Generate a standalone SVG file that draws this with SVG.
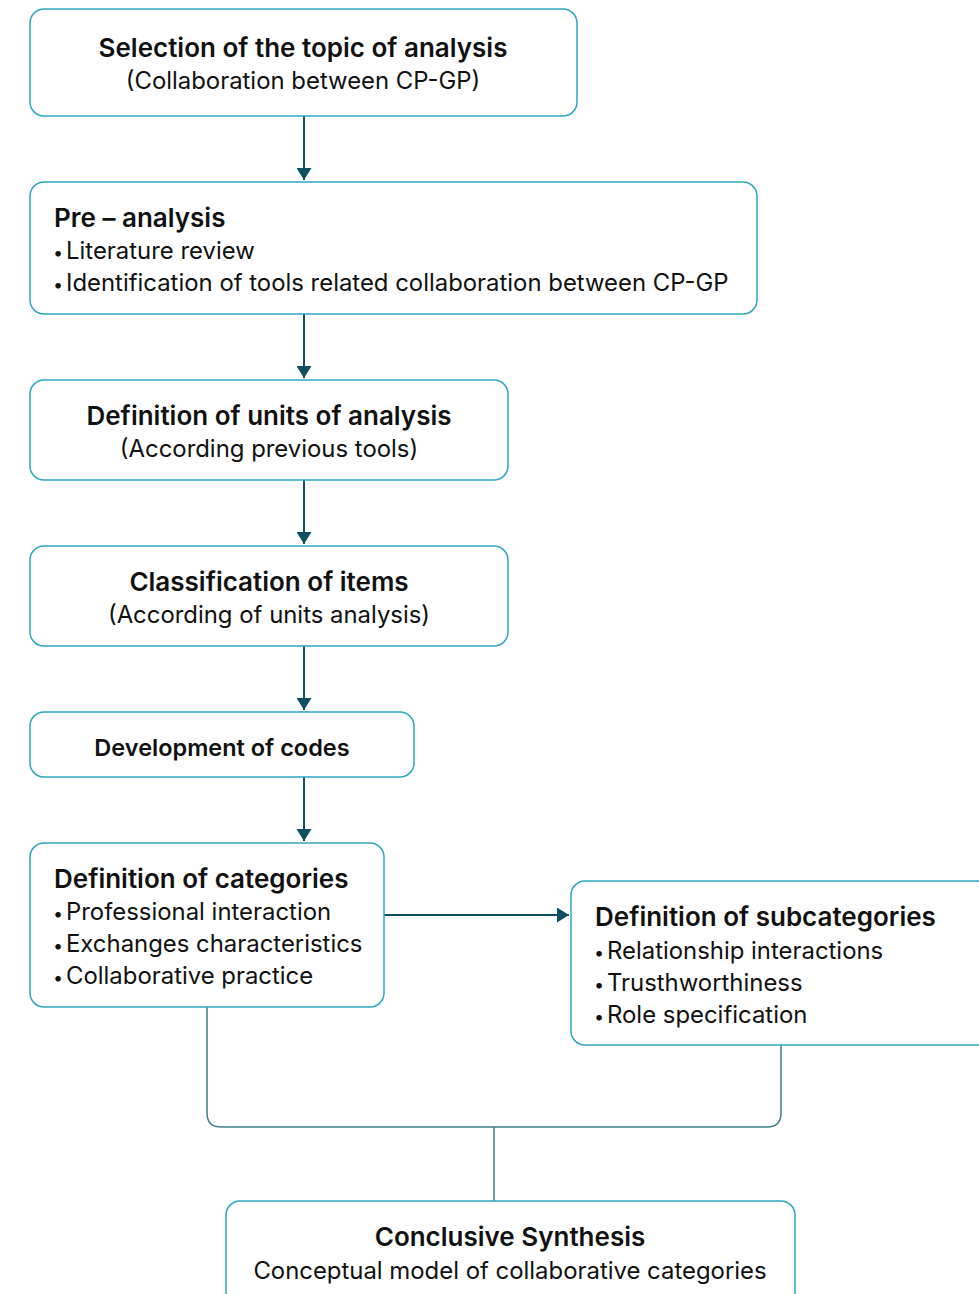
<svg xmlns="http://www.w3.org/2000/svg" width="979" height="1294" viewBox="0 0 979 1294">
<style>
.box{fill:#fff;stroke:#2fa7c0;stroke-width:1.5}
.t{font-family:Inter,"Noto Sans",sans-serif;fill:#111;font-size:23.9px}
.b{font-weight:600;font-size:26px}
.c{text-anchor:middle}
.bu{font-size:18px}
.con{fill:none;stroke:#0d5064;stroke-width:2}
.con2{fill:none;stroke:#3f7d8c;stroke-width:1.5}
</style>
<defs>
<marker id="arr" viewBox="0 0 12 15" refX="12" refY="7.5" markerWidth="12" markerHeight="15" orient="auto" markerUnits="userSpaceOnUse">
<path d="M0,0 L12,7.5 L0,15 z" fill="#0d5064"/>
</marker>
</defs>
<rect width="979" height="1294" fill="#fff"/>
<g id="connectors">
<line class="con" x1="304" y1="116" x2="304" y2="180" marker-end="url(#arr)"/>
<line class="con" x1="304" y1="314" x2="304" y2="378" marker-end="url(#arr)"/>
<line class="con" x1="304" y1="480" x2="304" y2="544" marker-end="url(#arr)"/>
<line class="con" x1="304" y1="646" x2="304" y2="710" marker-end="url(#arr)"/>
<line class="con" x1="304" y1="777" x2="304" y2="841" marker-end="url(#arr)"/>
<line class="con" x1="384" y1="915" x2="569" y2="915" marker-end="url(#arr)"/>
<path class="con2" d="M207,1007 V1113 Q207,1127 221,1127 H767 Q781,1127 781,1113 V1045"/>
<line class="con2" x1="494" y1="1127" x2="494" y2="1201"/>
</g>
<g id="n1">
<rect class="box" x="30" y="9" width="547" height="107" rx="14"/>
<text class="t b c" x="303" y="57">Selection of the topic of analysis</text>
<text class="t c" x="303" y="89">(Collaboration between CP-GP)</text>
</g>
<g id="n2">
<rect class="box" x="30" y="182" width="727" height="132" rx="14"/>
<text class="t b" x="54" y="227">Pre – analysis</text>
<text class="t" y="259"><tspan class="bu" x="53">•</tspan><tspan x="66">Literature review</tspan></text>
<text class="t" y="291"><tspan class="bu" x="53">•</tspan><tspan x="66">Identification of tools related collaboration between CP-GP</tspan></text>
</g>
<g id="n3">
<rect class="box" x="30" y="380" width="478" height="100" rx="14"/>
<text class="t b c" x="269" y="425">Definition of units of analysis</text>
<text class="t c" x="269" y="457">(According previous tools)</text>
</g>
<g id="n4">
<rect class="box" x="30" y="546" width="478" height="100" rx="14"/>
<text class="t b c" x="269" y="591">Classification of items</text>
<text class="t c" x="269" y="623">(According of units analysis)</text>
</g>
<g id="n5">
<rect class="box" x="30" y="712" width="384" height="65" rx="14"/>
<text class="t b c" x="222" y="756" style="font-size:23.5px">Development of codes</text>
</g>
<g id="n6">
<rect class="box" x="30" y="843" width="354" height="164" rx="14"/>
<text class="t b" x="54" y="888">Definition of categories</text>
<text class="t" y="920"><tspan class="bu" x="53">•</tspan><tspan x="66">Professional interaction</tspan></text>
<text class="t" y="952"><tspan class="bu" x="53">•</tspan><tspan x="66">Exchanges characteristics</tspan></text>
<text class="t" y="984"><tspan class="bu" x="53">•</tspan><tspan x="66">Collaborative practice</tspan></text>
</g>
<g id="n7">
<rect class="box" x="571" y="881" width="420" height="164" rx="14"/>
<text class="t b" x="595" y="926">Definition of subcategories</text>
<text class="t" y="959"><tspan class="bu" x="594">•</tspan><tspan x="607">Relationship interactions</tspan></text>
<text class="t" y="991"><tspan class="bu" x="594">•</tspan><tspan x="607">Trusthworthiness</tspan></text>
<text class="t" y="1023"><tspan class="bu" x="594">•</tspan><tspan x="607">Role specification</tspan></text>
</g>
<g id="n8">
<rect class="box" x="226" y="1201" width="569" height="110" rx="14"/>
<text class="t b c" x="510" y="1246">Conclusive Synthesis</text>
<text class="t c" x="510" y="1279">Conceptual model of collaborative categories</text>
</g>
</svg>
